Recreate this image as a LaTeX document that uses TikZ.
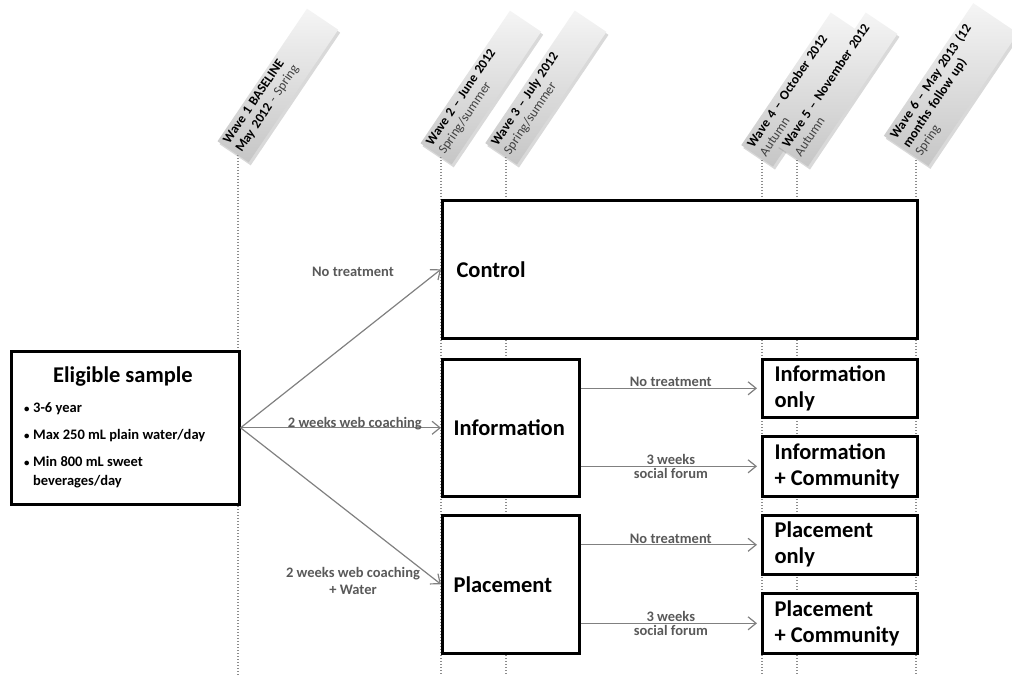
\documentclass[tikz,border=0pt]{standalone}
\usepackage{fontspec}
\setmainfont{Carlito}
\usetikzlibrary{arrows.meta,shadows}

\definecolor{lblgray}{RGB}{89,89,89}
\definecolor{arrgray}{RGB}{128,128,128}
\definecolor{dotgray}{RGB}{140,140,140}
\newcommand{\bigfont}{\fontsize{22.5}{26}\selectfont\bfseries}
\newcommand{\smallfont}{\fontsize{14.5}{16.5}\selectfont\bfseries}
\newcommand{\dotitem}{\makebox[9pt][l]{\scalebox{0.75}{\textbullet}}}
\newcommand{\tagpad}{\rule[-8pt]{0pt}{8pt}}

\begin{document}
\begin{tikzpicture}[x=1pt,y=1pt,yscale=-1,
  box/.style={draw=black,line width=2.6pt,fill=white,anchor=north west,inner sep=0pt},
  grp/.style={anchor=west,align=left,font=\bigfont,text=black},
  lbl/.style={font=\smallfont,text=lblgray,align=center,inner sep=1pt},
  arr/.style={draw=arrgray,line width=1.2pt,-{Straight Barb[length=8pt,width=13pt]}},
  wavedot/.style={draw=dotgray,line width=2pt,dash pattern=on 1.4pt off 1.6pt},
  wavetag/.style={rotate=56,anchor=west,text width=152,inner xsep=4pt,inner ysep=3pt,
    align=left,font=\fontsize{13.2}{15}\selectfont,text=black!75,
    top color=gray!8,bottom color=gray!45,draw=none,
    drop shadow={shadow xshift=2pt,shadow yshift=-3pt,opacity=0.3}},
]
\useasboundingbox (0,0) rectangle (1012,676);

%wave time lines
\coordinate (bot) at (0,676);
\coordinate (t1) at (238,155);
\coordinate (t2) at (441,157);
\coordinate (t3) at (506,157);
\coordinate (t4) at (762,160);
\coordinate (t5) at (797,160);
\coordinate (t6) at (916,160);
\foreach \i in {1,...,6}
  \draw[wavedot] (t\i) -- (t\i |- bot);

%wave labels
\node[wavetag] (w1) at (233,152) {\textbf{\color{black}Wave 1 BASELINE}\\\textbf{\color{black}May 2012} - Spring\tagpad};
\node[wavetag] (w2) at (436,154) {\textbf{\color{black}Wave 2 -- June 2012}\\Spring/summer\tagpad};
\node[wavetag] (w3) at (501,154) {\textbf{\color{black}Wave 3 -- July 2012}\\Spring/summer\tagpad};
\node[wavetag] (w4) at (757,156) {\textbf{\color{black}Wave 4 -- October 2012}\\Autumn\tagpad};
\node[wavetag] (w5) at (792,156) {\textbf{\color{black}Wave 5 -- November 2012}\\Autumn\tagpad};
\node[wavetag] (w6) at (906,151) {\textbf{\color{black}Wave 6 -- May 2013 (12}\\\textbf{\color{black}months follow up)}\\Spring\tagpad};

%boxes
\node[box,minimum width=228,minimum height=153] (sample) at (10,350) {};
\node[box,minimum width=475,minimum height=138] (control) at (441,199) {};
\node[box,minimum width=137,minimum height=137] (info) at (441,358) {};
\node[box,minimum width=137,minimum height=138] (place) at (441,514) {};
\node[box,minimum width=155,minimum height=58] (infoonly) at (761,358) {};
\node[box,minimum width=155,minimum height=60] (infocomm) at (761,435) {};
\node[box,minimum width=155,minimum height=59] (placeonly) at (761,514) {};
\node[box,minimum width=155,minimum height=60] (placecomm) at (761,592) {};

% Text Nodes
\node[font=\bigfont] (sampletitle) at (123,377) {Eligible sample};
\node[anchor=north west,align=left,inner sep=0pt,font=\fontsize{14.5}{19}\selectfont\bfseries] (samplelist) at (24,402)
  {\dotitem 3-6 year\\[8pt]
   \dotitem Max 250 mL plain water/day\\[8pt]
   \dotitem Min 800 mL sweet\\
   \hspace*{9pt}beverages/day};
\node[grp] (controltxt) at ([xshift=12pt]control.west) {Control};
\node[grp] (infotxt) at ([xshift=9pt]info.west) {Information};
\node[grp] (placetxt) at ([xshift=9pt]place.west) {Placement};
\node[grp] (infoonlytxt) at ([xshift=10pt]infoonly.west) {Information\\only};
\node[grp] (infocommtxt) at ([xshift=10pt]infocomm.west) {Information\\+ Community};
\node[grp] (placeonlytxt) at ([xshift=10pt]placeonly.west) {Placement\\only};
\node[grp] (placecommtxt) at ([xshift=10pt]placecomm.west) {Placement\\+ Community};

%arrows from sample
\draw[arr] (sample.east) -- (control.west);
\draw[arr] (sample.east) -- node[lbl,pos=0.57,anchor=base] (lblweb) {2 weeks web coaching} (info.west);
\draw[arr] (sample.east) -- (place.west);
\node[lbl] (lblnone) at (353,272) {No treatment};
\node[lbl] (lblwater) at (353,581) {2 weeks web coaching\\+ Water};

%arrows to community groups
\draw[arr,shorten >=4pt] (info.east |- infoonly.west) -- node[lbl,above] (lblinone) {No treatment} (infoonly.west);
\draw[arr,shorten >=4pt] (info.east |- infocomm.west) -- node[lbl,above] (lblithree) {3 weeks} node[lbl,below] (lbliforum) {social forum} (infocomm.west);
\draw[arr,shorten >=4pt] (place.east |- placeonly.west) -- node[lbl,above] (lblpnone) {No treatment} (placeonly.west);
\draw[arr,shorten >=4pt] (place.east |- placecomm.west) -- node[lbl,above] (lblpthree) {3 weeks} node[lbl,below] (lblpforum) {social forum} (placecomm.west);

\end{tikzpicture}
\end{document}
